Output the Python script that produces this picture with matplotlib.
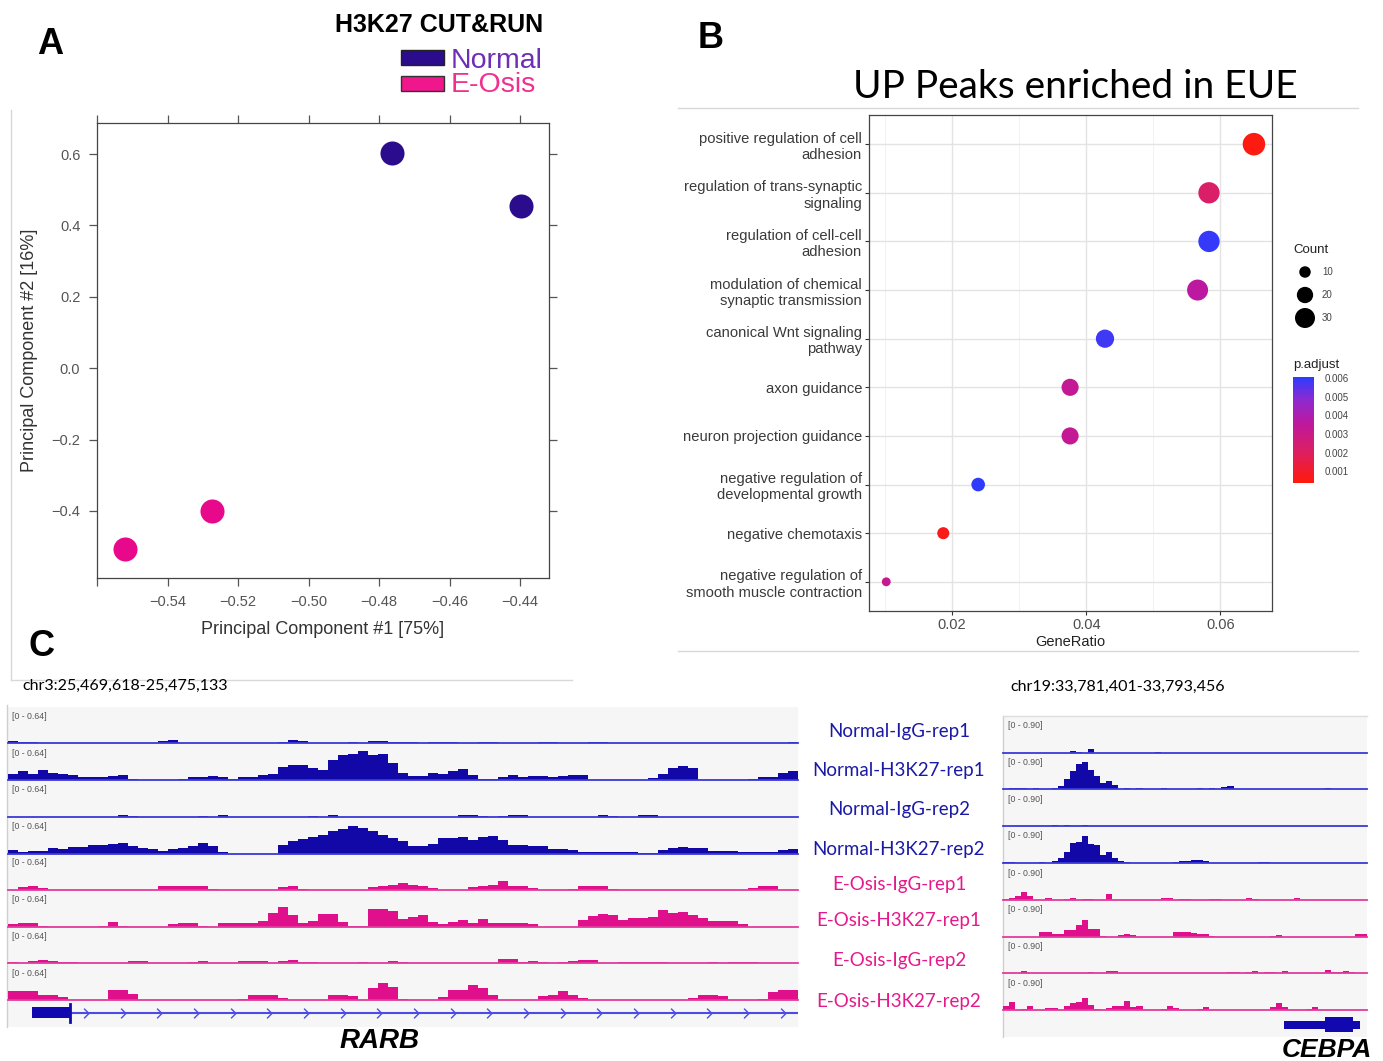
import numpy as np
import matplotlib.pyplot as plt
from matplotlib.patches import Rectangle
from matplotlib.colors import LinearSegmentedColormap, Normalize
from matplotlib.cm import ScalarMappable
from matplotlib.path import Path

plt.rcParams['font.family'] = ['Liberation Sans', 'DejaVu Sans']

# ---------------- data ----------------
# panel A: PCA
pc1_normal = [-0.4763, -0.4397]
pc2_normal = [0.603, 0.454]
pc1_eosis = [-0.5273, -0.5522]
pc2_eosis = [-0.400, -0.506]

# panel B: GO enrichment
terms = ['positive regulation of cell\nadhesion',
         'regulation of trans-synaptic\nsignaling',
         'regulation of cell-cell\nadhesion',
         'modulation of chemical\nsynaptic transmission',
         'canonical Wnt signaling\npathway',
         'axon guidance',
         'neuron projection guidance',
         'negative regulation of\ndevelopmental growth',
         'negative chemotaxis',
         'negative regulation of\nsmooth muscle contraction']
gene_ratio = [0.0650, 0.0583, 0.0583, 0.0566, 0.0428, 0.0376, 0.0376, 0.0239, 0.0187, 0.0102]
counts = [38, 34, 34, 33, 25, 22, 22, 14, 11, 6]
p_adjust = [0.0005, 0.0022, 0.0059, 0.0036, 0.0058, 0.0033, 0.0033, 0.0060, 0.0007, 0.0032]

# panel C: coverage tracks
track_names = ['Normal-IgG-rep1', 'Normal-H3K27-rep1', 'Normal-IgG-rep2', 'Normal-H3K27-rep2',
               'E-Osis-IgG-rep1', 'E-Osis-H3K27-rep1', 'E-Osis-IgG-rep2', 'E-Osis-H3K27-rep2']
rarb_start, rarb_end = 25469618, 25475133
cebpa_start, cebpa_end = 33781401, 33793456

rarb_tracks = [
    [0.045, 0.02, 0.02, 0.01, 0, 0, 0, 0, 0, 0,
     0, 0, 0, 0, 0, 0.04, 0.06, 0, 0, 0,
     0, 0, 0, 0, 0, 0, 0, 0.03, 0.06, 0.04,
     0, 0, 0, 0.01, 0.03, 0, 0.05, 0.04, 0.03, 0.03,
     0.03, 0.01, 0.03, 0.03, 0.03, 0, 0, 0.03, 0.03, 0,
     0, 0, 0, 0.03, 0.03, 0, 0, 0, 0.02, 0.03,
     0.01, 0, 0, 0, 0, 0, 0, 0, 0, 0,
     0, 0, 0, 0, 0, 0, 0, 0, 0.03],
    [0.12, 0.17, 0.12, 0.19, 0.14, 0.12, 0.10, 0.06, 0.06, 0.06,
     0.08, 0.10, 0.03, 0, 0, 0, 0, 0.02, 0.06, 0.06,
     0.08, 0.06, 0.03, 0.06, 0.07, 0.10, 0.11, 0.25, 0.29, 0.29,
     0.23, 0.19, 0.39, 0.47, 0.49, 0.56, 0.47, 0.49, 0.32, 0.14,
     0.09, 0.09, 0.14, 0.11, 0.18, 0.21, 0.10, 0.02, 0.03, 0.06,
     0.10, 0.07, 0.09, 0.08, 0.06, 0.09, 0.10, 0.10, 0.01, 0,
     0, 0, 0, 0, 0.04, 0.12, 0.23, 0.26, 0.24, 0,
     0, 0, 0, 0, 0.02, 0.06, 0.06, 0.14, 0.17],
    [0, 0, 0, 0, 0, 0, 0, 0, 0, 0,
     0, 0.03, 0.01, 0, 0, 0, 0, 0, 0, 0.02,
     0, 0.03, 0, 0, 0, 0, 0, 0, 0, 0,
     0.02, 0, 0.03, 0, 0, 0, 0, 0, 0, 0,
     0, 0, 0, 0, 0, 0.03, 0.03, 0.02, 0, 0.02,
     0.03, 0.03, 0, 0, 0, 0, 0, 0, 0, 0.03,
     0.02, 0, 0, 0.03, 0.03, 0, 0, 0, 0, 0,
     0, 0, 0, 0, 0, 0, 0, 0, 0],
    [0.07, 0.04, 0.06, 0.06, 0.10, 0.09, 0.12, 0.13, 0.16, 0.17,
     0.19, 0.20, 0.14, 0.10, 0.09, 0.06, 0.08, 0.11, 0.15, 0.20,
     0.14, 0.03, 0, 0, 0, 0, 0, 0.16, 0.24, 0.27,
     0.31, 0.35, 0.43, 0.47, 0.52, 0.49, 0.43, 0.35, 0.29, 0.23,
     0.14, 0.14, 0.19, 0.29, 0.29, 0.31, 0.25, 0.31, 0.33, 0.25,
     0.17, 0.16, 0.14, 0.14, 0.09, 0.09, 0.07, 0.04, 0.04, 0.04,
     0.04, 0.04, 0.04, 0.01, 0.01, 0.07, 0.10, 0.12, 0.10, 0.10,
     0.06, 0.06, 0.06, 0.04, 0.04, 0.04, 0.04, 0.07, 0.09],
    [0, 0.06, 0.07, 0.03, 0, 0, 0, 0, 0, 0,
     0, 0, 0, 0, 0, 0.07, 0.07, 0.07, 0.07, 0.07,
     0.01, 0, 0, 0, 0, 0, 0, 0.05, 0.07, 0.02,
     0, 0, 0, 0, 0, 0, 0.06, 0.07, 0.09, 0.13,
     0.09, 0.07, 0.04, 0, 0, 0, 0.05, 0.07, 0.09, 0.17,
     0.07, 0.07, 0.04, 0, 0, 0, 0.01, 0.07, 0.07, 0.07,
     0.01, 0, 0, 0, 0, 0, 0, 0, 0, 0,
     0, 0, 0, 0, 0.03, 0.07, 0.07, 0, 0],
    [0.05, 0.07, 0.07, 0.01, 0, 0, 0, 0, 0, 0.01,
     0.08, 0.02, 0, 0, 0, 0, 0.05, 0.07, 0.07, 0.01,
     0, 0.07, 0.07, 0.07, 0.07, 0.11, 0.25, 0.38, 0.22, 0.07,
     0.11, 0.24, 0.24, 0.08, 0.01, 0.01, 0.34, 0.34, 0.29, 0.14,
     0.18, 0.22, 0.09, 0.05, 0.08, 0.12, 0.07, 0.15, 0.07, 0.07,
     0.07, 0.07, 0.06, 0, 0, 0, 0, 0.12, 0.20, 0.24,
     0.22, 0.12, 0.17, 0.17, 0.19, 0.31, 0.26, 0.27, 0.22, 0.17,
     0.10, 0.10, 0.11, 0.05, 0, 0, 0, 0, 0],
    [0.03, 0.01, 0.04, 0.06, 0.05, 0.03, 0.03, 0, 0, 0,
     0, 0, 0.05, 0.04, 0, 0, 0, 0, 0.03, 0.05,
     0, 0, 0.01, 0.05, 0.05, 0.05, 0, 0.04, 0.07, 0.03,
     0.03, 0.01, 0, 0, 0, 0.03, 0.01, 0, 0.04, 0.03,
     0.01, 0, 0, 0, 0, 0, 0, 0, 0.01, 0.09,
     0.09, 0.03, 0.05, 0.02, 0, 0.03, 0.04, 0.07, 0.06, 0,
     0, 0.02, 0.03, 0.03, 0.03, 0.03, 0, 0, 0, 0.01,
     0.03, 0.01, 0.03, 0.03, 0.02, 0, 0, 0, 0],
    [0.18, 0.17, 0.17, 0.10, 0.10, 0.06, 0, 0, 0, 0,
     0.20, 0.20, 0.12, 0, 0, 0, 0, 0, 0, 0,
     0, 0, 0, 0.03, 0.10, 0.10, 0.10, 0.05, 0, 0,
     0, 0, 0.10, 0.10, 0.08, 0, 0.23, 0.32, 0.25, 0.03,
     0, 0, 0, 0.07, 0.20, 0.20, 0.29, 0.24, 0.10, 0,
     0, 0, 0, 0.08, 0.10, 0.17, 0.10, 0.04, 0, 0,
     0, 0, 0, 0, 0, 0, 0, 0, 0.05, 0.10,
     0.10, 0.09, 0, 0, 0, 0.03, 0.15, 0.20, 0.20],
]

cebpa_tracks = [
    [0, 0, 0, 0, 0, 0, 0, 0, 0, 0,
     0, 0.035, 0.01, 0, 0.10, 0, 0, 0, 0, 0,
     0, 0, 0, 0, 0, 0.03, 0, 0, 0, 0,
     0, 0, 0, 0, 0, 0, 0, 0, 0, 0,
     0, 0, 0, 0, 0, 0, 0, 0, 0, 0,
     0, 0, 0, 0, 0, 0, 0, 0, 0, 0],
    [0, 0.03, 0.03, 0.03, 0, 0.03, 0.01, 0.02, 0.03, 0.10,
     0.28, 0.50, 0.68, 0.75, 0.52, 0.36, 0.17, 0.24, 0.13, 0.01,
     0.03, 0, 0.04, 0, 0, 0.01, 0.03, 0, 0, 0,
     0, 0, 0.03, 0.02, 0.04, 0.01, 0.06, 0.08, 0, 0,
     0, 0, 0, 0, 0, 0, 0, 0, 0, 0,
     0, 0, 0.01, 0.04, 0.01, 0, 0, 0, 0, 0],
    [0, 0, 0, 0, 0, 0, 0, 0, 0.035, 0,
     0.02, 0, 0, 0.02, 0, 0, 0, 0, 0, 0,
     0, 0, 0, 0, 0, 0, 0, 0, 0, 0,
     0, 0, 0, 0, 0, 0, 0, 0, 0, 0,
     0, 0, 0, 0, 0, 0, 0, 0, 0, 0,
     0, 0, 0, 0, 0, 0, 0, 0, 0, 0],
    [0.03, 0.02, 0, 0, 0, 0, 0.01, 0, 0.05, 0.13,
     0.30, 0.54, 0.56, 0.74, 0.52, 0.48, 0.22, 0.28, 0.13, 0.05,
     0.01, 0, 0, 0, 0, 0, 0, 0, 0.03, 0.035,
     0.035, 0.08, 0.08, 0.05, 0, 0, 0, 0, 0, 0,
     0, 0, 0.03, 0.03, 0, 0, 0, 0, 0, 0,
     0, 0, 0, 0, 0, 0, 0, 0, 0, 0],
    [0.02, 0.055, 0.12, 0.21, 0.10, 0, 0, 0.055, 0, 0,
     0.015, 0.055, 0.01, 0.04, 0.03, 0, 0, 0.16, 0, 0,
     0, 0, 0, 0, 0, 0, 0.05, 0.055, 0.01, 0.02,
     0.04, 0, 0, 0, 0.04, 0.02, 0, 0, 0, 0,
     0.055, 0.03, 0, 0, 0, 0, 0, 0.01, 0.055, 0,
     0, 0, 0, 0, 0, 0, 0, 0, 0, 0],
    [0, 0, 0, 0, 0, 0, 0.12, 0.14, 0.08, 0.08,
     0.19, 0.19, 0.32, 0.45, 0.20, 0.20, 0.03, 0, 0, 0.06,
     0.07, 0.05, 0, 0, 0, 0, 0, 0, 0.13, 0.13,
     0.12, 0.10, 0.08, 0.08, 0.01, 0, 0, 0, 0, 0,
     0, 0, 0, 0, 0.03, 0.06, 0, 0, 0, 0,
     0, 0, 0, 0, 0, 0, 0, 0, 0.07, 0.07],
    [0, 0, 0, 0.05, 0.01, 0.02, 0, 0, 0, 0,
     0, 0, 0, 0.02, 0.035, 0.02, 0.01, 0.05, 0.07, 0.01,
     0, 0, 0, 0, 0, 0, 0, 0, 0, 0,
     0, 0, 0.02, 0, 0, 0, 0, 0.03, 0.035, 0,
     0.04, 0.05, 0.02, 0.03, 0.035, 0, 0.07, 0, 0, 0,
     0, 0, 0, 0.08, 0.03, 0.03, 0.05, 0.03, 0.02, 0],
    [0.12, 0.21, 0, 0.03, 0.10, 0, 0, 0.05, 0.06, 0,
     0.10, 0.19, 0.22, 0.33, 0.13, 0.03, 0, 0.05, 0.11, 0.11,
     0.25, 0.09, 0.11, 0, 0, 0, 0.04, 0.11, 0.06, 0,
     0, 0, 0.03, 0.09, 0, 0, 0, 0, 0, 0,
     0, 0, 0, 0, 0.09, 0.19, 0.08, 0, 0, 0,
     0.03, 0.07, 0, 0, 0, 0, 0, 0, 0, 0],
]

# gene models
rarb_exon = (25469786, 25470051)
rarb_chevrons_first, rarb_chevron_step = 25470163, 256
cebpa_utr = [(33790708, 33792066), (33793000, 33793225)]
cebpa_cds = (33792066, 33793000)

# ---------------- figure ----------------
W, H = 1383, 1061
fig = plt.figure(figsize=(W / 100, H / 100), dpi=100)


def box(x0, y0, x1, y1):
    return [x0 / W, 1 - y1 / H, (x1 - x0) / W, (y1 - y0) / H]


# overlay in pixel units for decorations
ov = fig.add_axes([0, 0, 1, 1], zorder=0)
ov.set_xlim(0, W)
ov.set_ylim(H, 0)
ov.axis('off')

NAVY = '#2b0c8c'
PINK = '#e8088c'
TBLUE = '#1208a8'
TPINK = '#e0108c'

# panel letters
for s, x, y in [('A', 50, 45), ('B', 711, 38), ('C', 42, 646)]:
    ov.text(x, y, s, fontsize=26, fontweight='bold', ha='center', va='center')

# frame lines
ov.plot([11, 11], [110, 680], color='#d8d8d8', lw=1)
ov.plot([11, 572], [680, 680], color='#d8d8d8', lw=1)
ov.plot([678, 1358], [108, 108], color='#d8d8d8', lw=1)
ov.plot([678, 1358], [651, 651], color='#d8d8d8', lw=1)

# ---------------- panel A ----------------
ov.text(439, 32.5, 'H3K27 CUT&RUN', fontsize=18, fontweight='bold', ha='center', va='baseline')
ov.add_patch(Rectangle((401, 49.5), 43, 15.5, facecolor=NAVY, edgecolor='#222222', lw=1))
ov.add_patch(Rectangle((401, 75.5), 43, 15, facecolor='#f0168c', edgecolor='#333333', lw=1))
ov.text(451, 68.3, 'Normal', fontsize=20.5, color='#6d2fb6', va='baseline')
ov.text(451, 91.7, 'E-Osis', fontsize=20.5, color='#f0308f', va='baseline')

axa = fig.add_axes(box(97, 123, 549, 578), zorder=1)
axa.scatter(pc1_normal, pc2_normal, s=300, color=NAVY, lw=0)
axa.scatter(pc1_eosis, pc2_eosis, s=300, color=PINK, lw=0)
axa.set_xlim(-0.5598, -0.4318)
axa.set_ylim(-0.588, 0.687)
xt = [-0.56, -0.54, -0.52, -0.50, -0.48, -0.46, -0.44]
axa.set_xticks(xt)
axa.set_xticklabels([''] + ['\u2212%.2f' % abs(v) for v in xt[1:]])
yt = [0.6, 0.4, 0.2, 0.0, -0.2, -0.4]
axa.set_yticks(yt)
axa.set_yticklabels(['%.1f' % v if v >= 0 else '\u2212%.1f' % abs(v) for v in yt])
axa.tick_params(direction='out', length=6, width=0.9, top=True, right=True,
                color='#555555', labelcolor='#555555', labelsize=10.5, pad=6)
for sp in axa.spines.values():
    sp.set_color('#444444')
    sp.set_linewidth(0.9)
axa.set_xlabel('Principal Component #1 [75%]', fontsize=13, color='#333333', labelpad=9)
axa.set_ylabel('Principal Component #2 [16%]', fontsize=13, color='#333333', labelpad=10)

# ---------------- panel B ----------------
ov.text(1075, 98, 'UP Peaks enriched in EUE', fontsize=28, family='Lato', ha='center', va='baseline')

cmap = LinearSegmentedColormap.from_list(
    'padj', [(0.0, '#ff1a0a'), (0.3, '#dc1f63'), (0.55, '#c0189c'), (0.8, '#8a2ad2'), (1.0, '#2a3cff')])
norm = Normalize(vmin=0.00038, vmax=0.00605)


def dot_area(c):
    d = np.sqrt(132 + 13.4 * (np.asarray(c) - 10))
    return (0.72 * d) ** 2


axb = fig.add_axes(box(869, 115, 1272, 611), zorder=1)
ypos = np.arange(len(terms), 0, -1)
axb.scatter(gene_ratio, ypos, s=dot_area(counts), c=p_adjust, cmap=cmap, norm=norm, lw=0, zorder=3)
axb.set_xlim(0.00763, 0.06769)
axb.set_ylim(0.4, 10.6)
axb.set_xticks([0.02, 0.04, 0.06])
axb.set_xticklabels(['0.02', '0.04', '0.06'])
axb.set_xticks([0.01, 0.03, 0.05], minor=True)
axb.set_yticks(ypos)
axb.set_yticklabels(terms)
axb.grid(which='major', color='#e3e3e3', lw=1.0)
axb.grid(which='minor', axis='x', color='#f0f0f0', lw=0.6)
axb.set_axisbelow(True)
axb.tick_params(which='major', length=3, width=0.8, color='#333333', labelcolor='#3a3a3a', labelsize=10.6, pad=2)
axb.tick_params(which='minor', length=0)
axb.tick_params(axis='x', labelsize=10.5, labelcolor='#4d4d4d')
for sp in axb.spines.values():
    sp.set_color('#444444')
    sp.set_linewidth(0.9)
axb.set_xlabel('GeneRatio', fontsize=10.5, color='#222222', labelpad=2)

# size legend
ov.text(1293, 250, 'Count', fontsize=9.5, color='#222222', va='center')
leg_counts = [10, 20, 30]
ov.scatter([1305] * 3, [272, 295, 318], s=dot_area(leg_counts), color='black', lw=0)
for c, y in zip(leg_counts, [272, 295, 318]):
    ov.text(1322, y, str(c), fontsize=7, color='#444444', va='center')
ov.text(1293, 365, 'p.adjust', fontsize=9.5, color='#222222', va='center')
cax = fig.add_axes(box(1293, 377, 1314, 483), zorder=1)
cb = fig.colorbar(ScalarMappable(norm=norm, cmap=cmap), cax=cax)
cb.set_ticks([0.001, 0.002, 0.003, 0.004, 0.005, 0.006])
cb.set_ticklabels(['0.001', '0.002', '0.003', '0.004', '0.005', '0.006'])
cb.outline.set_visible(False)
cax.tick_params(length=3, color='white', labelsize=7, labelcolor='#444444', pad=5)

# ---------------- panel C ----------------
ov.text(22, 686, 'chr3:25,469,618-25,475,133', fontsize=11.5, family='Lato', va='center')
ov.text(1010, 687, 'chr19:33,781,401-33,793,456', fontsize=11.5, family='Lato', va='center')

ov.add_patch(Rectangle((8, 707), 790, 320, facecolor='#f6f6f7', edgecolor='none'))
ov.add_patch(Rectangle((1003, 716), 364, 321, facecolor='#f6f6f7', edgecolor='none'))
ov.plot([7, 7], [705, 1027], color='#cfcfcf', lw=1)
ov.plot([1003, 1003], [716, 1037], color='#cfcfcf', lw=1)
ov.plot([1003, 1367], [716, 716], color='#dddddd', lw=1)

left_base = [743.3, 780.3, 817, 853.7, 889.7, 926.7, 963.3, 1000.3]
right_base = [752.7, 789.3, 826, 862.7, 900, 936.7, 973.3, 1010]
label_y = [731, 770.5, 809, 849, 884.3, 920.7, 960.7, 1001.7]


def draw_track(x0, x1, base, h, vals, start, end, ymax, fill, line, rng):
    ax = fig.add_axes(box(x0, base - h, x1, base), zorder=1)
    edges = np.linspace(start, end, len(vals) + 1)
    ax.stairs(vals, edges, fill=True, color=fill, lw=0)
    ax.axhline(0, color=line, lw=1.3, clip_on=False)
    ax.set_xlim(start, end)
    ax.set_ylim(0, ymax)
    ax.axis('off')
    ax.text(4.5 / (x1 - x0), 27.0 / h, rng, transform=ax.transAxes, fontsize=6.3,
            color='#555555', va='center')
    return ax


for i, name in enumerate(track_names):
    normal = name.startswith('Normal')
    fill = TBLUE if normal else TPINK
    line = '#3a3ad8' if normal else '#e23c9c'
    draw_track(8, 798, left_base[i], 34, rarb_tracks[i], rarb_start, rarb_end, 0.64,
               fill, line, '[0 - 0.64]')
    draw_track(1003, 1367, right_base[i], 33, cebpa_tracks[i], cebpa_start, cebpa_end, 0.90,
               fill, line, '[0 - 0.90]')
    ov.text(899, label_y[i], name, fontsize=13.5, family='Lato',
            color='#1a1aa6' if normal else '#e6198c', ha='center', va='center')

# RARB gene model
axg = fig.add_axes(box(8, 1000, 798, 1025), zorder=1)
axg.set_xlim(rarb_start, rarb_end)
axg.set_ylim(-1, 1)
axg.axis('off')
axg.plot([rarb_exon[1], rarb_end], [0, 0], color='#4b4be6', lw=1.5)
axg.add_patch(Rectangle((rarb_exon[0], -0.43), rarb_exon[1] - rarb_exon[0], 0.86,
                        facecolor='#1208b0', edgecolor='none'))
axg.plot([rarb_exon[1], rarb_exon[1]], [-0.72, 0.72], color='#1208b0', lw=2)
chev = Path([(-0.5, 1), (0.5, 0), (-0.5, -1)], [Path.MOVETO, Path.LINETO, Path.LINETO])
cx = np.arange(rarb_chevrons_first, rarb_end, rarb_chevron_step)
axg.plot(cx, np.zeros_like(cx), ls='none', marker=chev, markersize=7,
         mfc='none', mec='#4b4be6', mew=1.0)
ov.text(380, 1041, 'RARB', fontsize=20, fontweight='bold', style='italic', ha='center', va='center')

# CEBPA gene model
axc = fig.add_axes(box(1003, 1012, 1367, 1037), zorder=1)
axc.set_xlim(cebpa_start, cebpa_end)
axc.set_ylim(-1, 1)
axc.axis('off')
for s, e in cebpa_utr:
    axc.add_patch(Rectangle((s, -0.32), e - s, 0.64, facecolor='#1208b0', edgecolor='none'))
axc.add_patch(Rectangle((cebpa_cds[0], -0.6), cebpa_cds[1] - cebpa_cds[0], 1.2,
                        facecolor='#1208b0', edgecolor='none'))
ov.text(1327, 1050, 'CEBPA', fontsize=19, fontweight='bold', style='italic', ha='center', va='center')

fig.savefig('out.png', dpi=100)
